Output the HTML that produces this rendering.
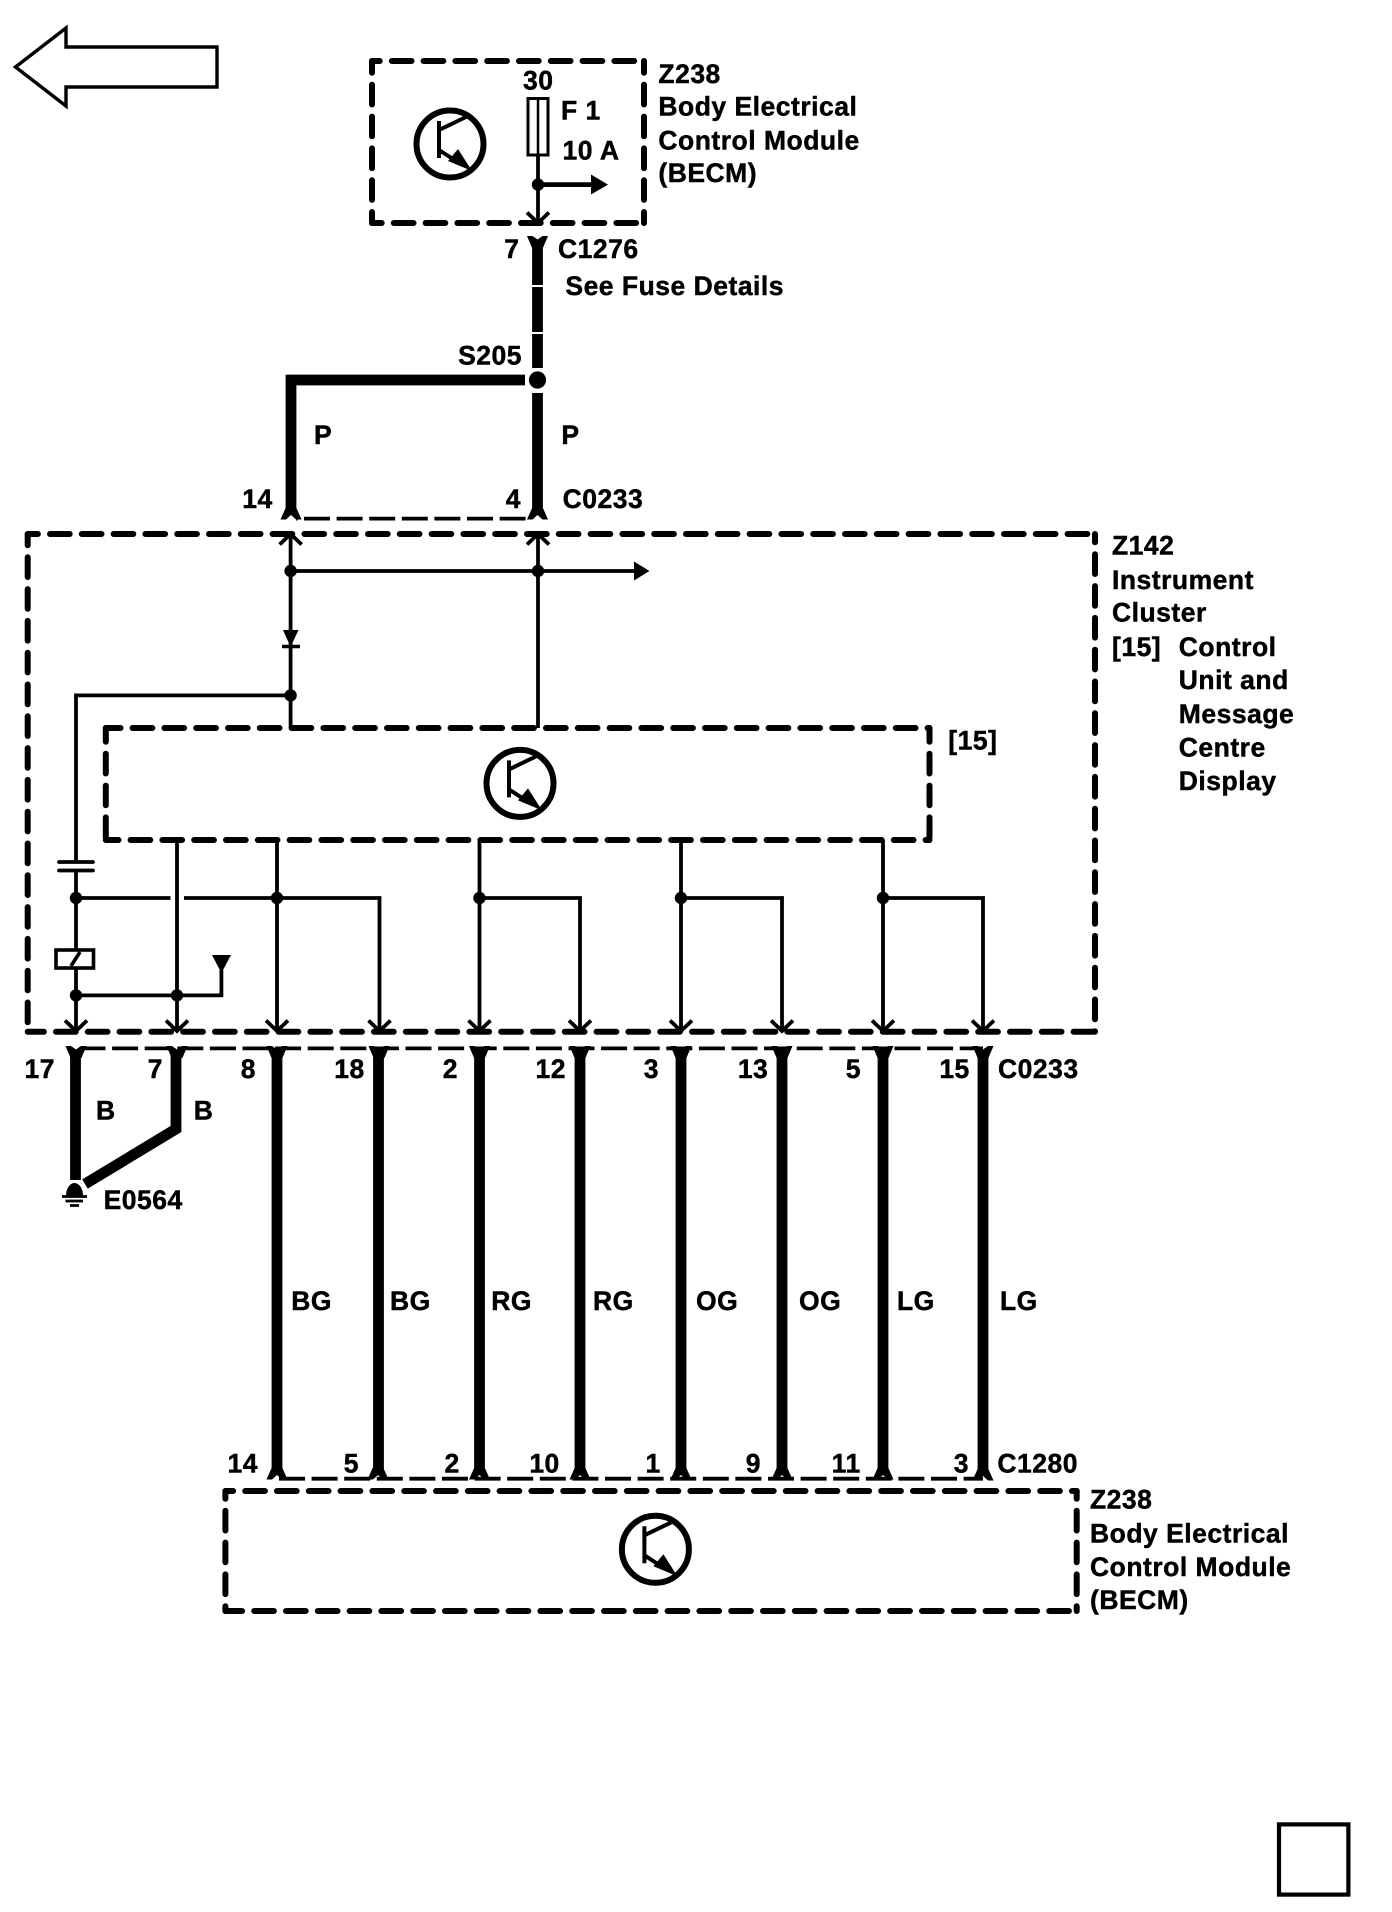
<!DOCTYPE html>
<html lang="en">
<head>
<meta charset="utf-8">
<title>Wiring diagram</title>
<style>
html,body{margin:0;padding:0;background:#fff;width:1392px;height:1912px;overflow:hidden}
svg{display:block}
text{font-family:"Liberation Sans",Arial,sans-serif;font-weight:700;font-size:26.5px;letter-spacing:.5px;fill:#000;stroke:#000;stroke-width:.45px}
.e{text-anchor:end}
.t{stroke:#000;stroke-width:3.8;fill:none}
.w{stroke:#000;stroke-width:10.8;fill:none}
.d{stroke:#000;stroke-width:6;fill:none;stroke-dasharray:19.7 12.1;stroke-linecap:round}
.c{stroke:#000;stroke-width:3.8;fill:none;stroke-dasharray:26 6.6}
</style>
</head>
<body>
<svg width="1392" height="1912" viewBox="0 0 1392 1912" xmlns="http://www.w3.org/2000/svg">
<defs>
<g id="tr">
<circle r="33.5" fill="none" stroke="#000" stroke-width="6"/>
<path d="M-11,-23V14M-11,-14L16,-27M-11,6L6,17" fill="none" stroke="#000" stroke-width="4"/>
<polygon points="22,27 -2,17 8,5"/>
</g>
<path id="vd" d="M-11,-10.5L0,0L11,-10.5" fill="none" stroke="#000" stroke-width="3.8"/>
<path id="vu" d="M-11,11.5L0,1L11,11.5" fill="none" stroke="#000" stroke-width="3.8"/>
<polygon id="yt" points="-10.5,-4 -5,-4 0,-0.5 5,-4 10.5,-4 5.4,8 -5.4,8"/>
<polygon id="yb" points="-5.4,-9 5.4,-9 10.5,2.5 5,2.5 0,-2 -5,2.5 -10.5,2.5"/>
<circle id="j" r="6.2"/>
</defs>

<!-- page arrow -->
<polygon points="15.5,67 66,28 66,47 217,47 217,87 66,87 66,106" fill="none" stroke="#000" stroke-width="3.4"/>

<!-- top module -->
<path class="d" stroke-dashoffset="12" d="M372,61H644"/>
<path class="d" stroke-dashoffset="10" d="M372,223H644"/>
<path class="d" stroke-dashoffset="8" d="M372,61V223"/>
<path class="d" stroke-dashoffset="8" d="M644,61V223"/>
<use href="#tr" x="450" y="144"/>
<rect x="528" y="98.5" width="20" height="56.5" fill="none" stroke="#000" stroke-width="3"/>
<path d="M538,98V155" stroke="#000" stroke-width="2.5"/>
<path class="t" d="M538,155V223"/>
<use href="#j" x="538" y="184.6"/>
<path d="M538,184.6H592" stroke="#000" stroke-width="4.8"/>
<polygon points="591,174.5 608,184.6 591,194.5"/>
<use href="#vd" x="538" y="223"/>
<text x="523" y="89.3">30</text>
<text x="561" y="119.6">F 1</text>
<text x="562.5" y="159.6">10 A</text>
<text x="658.4" y="83">Z238</text>
<text x="658.4" y="115.5">Body Electrical</text>
<text x="658.4" y="149.3">Control Module</text>
<text x="658.4" y="182">(BECM)</text>

<!-- feed -->
<use href="#yt" transform="translate(537.5,240)"/>
<path class="w" d="M537.5,244V285M537.5,287V332M537.5,334V368M537.5,393V513M291,375V513"/>
<path class="w" d="M286,380H525"/>
<circle cx="537.5" cy="380" r="8.6"/>
<use href="#yb" transform="translate(291,517)"/>
<use href="#yb" transform="translate(537.5,517)"/>
<path class="c" stroke-dashoffset="-8" d="M296,518.6H530"/>
<text x="519.5" y="258" class="e">7</text>
<text x="558" y="258">C1276</text>
<text x="565.4" y="295">See Fuse Details</text>
<text x="522" y="364.3" class="e">S205</text>
<text x="314" y="444">P</text>
<text x="561.4" y="444">P</text>
<text x="272.7" y="508" class="e">14</text>
<text x="521" y="508" class="e">4</text>
<text x="562.6" y="508">C0233</text>

<!-- Z142 -->
<path class="d" stroke-dashoffset="9.5" d="M27.7,534H1095"/>
<path class="d" stroke-dashoffset="3.5" d="M27.7,1031.7H1095"/>
<path class="d" stroke-dashoffset="8.5" d="M27.7,534V1031.7"/>
<path class="d" stroke-dashoffset="11.5" d="M1095,534V1031.7"/>
<!-- inner -->
<path class="d" stroke-dashoffset="5" d="M105.8,728H929.5"/>
<path class="d" stroke-dashoffset="7" d="M105.8,840H929.5"/>
<path class="d" stroke-dashoffset="6" d="M105.8,728V840"/>
<path class="d" stroke-dashoffset="6" d="M929.5,728V840"/>
<use href="#tr" x="520" y="783.4"/>

<use href="#vu" x="290.6" y="533"/>
<use href="#vu" x="538" y="533"/>
<path class="t" d="M290.6,533V728M538,533V728M290.6,571H634M290.6,695.4H76V862"/>
<polygon points="634,561.5 649.5,571 634,580.5"/>
<use href="#j" x="290.6" y="571"/>
<use href="#j" x="538" y="571"/>
<use href="#j" x="290.6" y="695.4"/>
<polygon points="283,630 298.5,630 290.6,647"/>
<path d="M282,646.5H300" stroke="#000" stroke-width="3.6"/>
<!-- capacitor / relay -->
<path d="M59,862H93M59,870.5H93" stroke="#000" stroke-width="3.8" stroke-linecap="round"/>
<path class="t" d="M76,870V950M76,968V1031M76,898H170.5M184,898H379.5V1031M177,840V1031M277,840V1031M479.5,840V1031M479.5,898H580V1031M681,840V1031M681,898H782V1031M883,840V1031M883,898H983V1031M76,995.4H221.4V970"/>
<rect x="56" y="950" width="37.5" height="18" fill="#fff" stroke="#000" stroke-width="3.6"/>
<path d="M71,966L80,952" stroke="#000" stroke-width="3.6"/>
<polygon points="212,955 231,955 221.4,973"/>
<use href="#j" x="76" y="898"/>
<use href="#j" x="277" y="898"/>
<use href="#j" x="479.5" y="898"/>
<use href="#j" x="681" y="898"/>
<use href="#j" x="883" y="898"/>
<use href="#j" x="76" y="995.4"/>
<use href="#j" x="177" y="995.4"/>
<use href="#vd" x="76" y="1031"/>
<use href="#vd" x="177" y="1031"/>
<use href="#vd" x="277" y="1031"/>
<use href="#vd" x="379.5" y="1031"/>
<use href="#vd" x="479.5" y="1031"/>
<use href="#vd" x="580" y="1031"/>
<use href="#vd" x="681" y="1031"/>
<use href="#vd" x="782" y="1031"/>
<use href="#vd" x="883" y="1031"/>
<use href="#vd" x="983" y="1031"/>

<text x="1112" y="554.4">Z142</text>
<text x="1112" y="588.9">Instrument</text>
<text x="1112" y="621.4">Cluster</text>
<text x="1112" y="655.9">[15]</text>
<text x="1178.8" y="655.9">Control</text>
<text x="1178.8" y="689">Unit and</text>
<text x="1178.8" y="722.8">Message</text>
<text x="1178.8" y="756.5">Centre</text>
<text x="1178.8" y="789.8">Display</text>
<text x="948.3" y="749.6">[15]</text>

<!-- C0233 lower connector -->
<path class="c" stroke-dashoffset="-3.5" d="M76,1048.4H983"/>
<use href="#yt" x="76" y="1050"/>
<use href="#yt" x="177" y="1050"/>
<use href="#yt" x="277" y="1050"/>
<use href="#yt" x="379" y="1050"/>
<use href="#yt" x="479.5" y="1050"/>
<use href="#yt" x="580" y="1050"/>
<use href="#yt" x="681" y="1050"/>
<use href="#yt" x="782" y="1050"/>
<use href="#yt" x="883" y="1050"/>
<use href="#yt" x="983" y="1050"/>
<path class="w" d="M75.5,1055V1180"/>
<path d="M176,1055V1129L85,1184" fill="none" stroke="#000" stroke-width="10.8" stroke-linejoin="miter"/>
<path class="w" d="M277,1055V1470M378.5,1055V1470M479.5,1055V1470M580,1055V1470M681,1055V1470M782,1055V1470M883,1055V1470M983,1055V1470"/>
<!-- ground -->
<path d="M66,1195.5A8.5,12.5 0 0 1 83,1195.5Z"/>
<path d="M62,1196.5H87M65.5,1201H83M70,1205.5H79" stroke="#000" stroke-width="2.8"/>
<text x="24.5" y="1078">17</text>
<text x="163" y="1078" class="e">7</text>
<text x="256" y="1078" class="e">8</text>
<text x="364.7" y="1078" class="e">18</text>
<text x="458" y="1078" class="e">2</text>
<text x="566" y="1078" class="e">12</text>
<text x="659" y="1078" class="e">3</text>
<text x="768.3" y="1078" class="e">13</text>
<text x="861" y="1078" class="e">5</text>
<text x="969.8" y="1078" class="e">15</text>
<text x="998" y="1078">C0233</text>
<text x="96" y="1119.5">B</text>
<text x="193.7" y="1119.5">B</text>
<text x="103.6" y="1209">E0564</text>

<text x="291.3" y="1310">BG</text>
<text x="390" y="1310">BG</text>
<text x="491.3" y="1310">RG</text>
<text x="593" y="1310">RG</text>
<text x="696" y="1310">OG</text>
<text x="799" y="1310">OG</text>
<text x="897" y="1310">LG</text>
<text x="1000" y="1310">LG</text>

<!-- C1280 -->
<path class="c" stroke-dashoffset="-2" d="M277,1478.7H983"/>
<use href="#yb" x="277" y="1477"/>
<use href="#yb" x="378" y="1477"/>
<use href="#yb" x="479.5" y="1477"/>
<use href="#yb" x="580" y="1477"/>
<use href="#yb" x="681" y="1477"/>
<use href="#yb" x="782" y="1477"/>
<use href="#yb" x="883" y="1477"/>
<use href="#yb" x="983" y="1478"/>
<text x="258" y="1472.3" class="e">14</text>
<text x="359" y="1472.3" class="e">5</text>
<text x="459.8" y="1472.3" class="e">2</text>
<text x="559.8" y="1472.3" class="e">10</text>
<text x="660.7" y="1472.3" class="e">1</text>
<text x="761" y="1472.3" class="e">9</text>
<text x="860.7" y="1472.3" class="e">11</text>
<text x="969" y="1472.3" class="e">3</text>
<text x="997.4" y="1472.3">C1280</text>

<!-- bottom module -->
<path class="d" stroke-dashoffset="12" d="M225.4,1491H1076.7"/>
<path class="d" stroke-dashoffset="3" d="M225.4,1611H1076.7"/>
<path class="d" stroke-dashoffset="12" d="M225.4,1491V1611"/>
<path class="d" stroke-dashoffset="12" d="M1076.7,1491V1611"/>
<use href="#tr" x="655.4" y="1549.3"/>
<text x="1090" y="1508.3">Z238</text>
<text x="1090" y="1542.7">Body Electrical</text>
<text x="1090" y="1576">Control Module</text>
<text x="1090" y="1609">(BECM)</text>

<!-- corner square -->
<rect x="1279" y="1824.4" width="69.4" height="70.2" fill="none" stroke="#000" stroke-width="4.2"/>
</svg>
</body>
</html>
